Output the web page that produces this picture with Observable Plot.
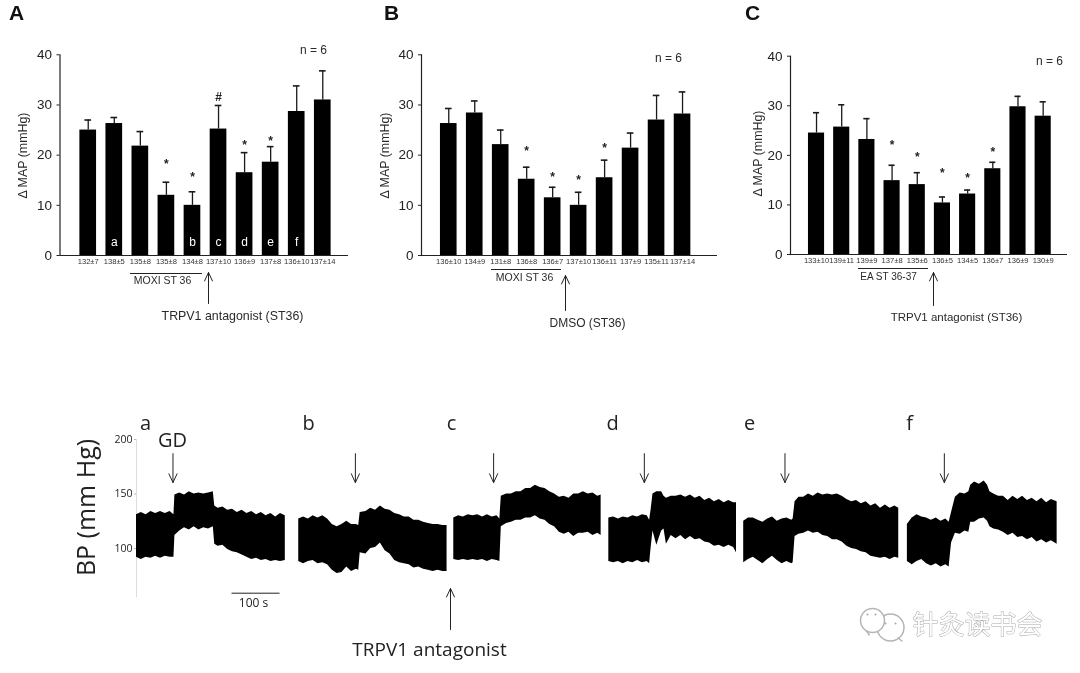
<!DOCTYPE html>
<html><head><meta charset="utf-8">
<script src="https://cdn.jsdelivr.net/npm/d3@7"></script>
<script src="https://cdn.jsdelivr.net/npm/@observablehq/plot@0.6"></script>
<style>html,body{margin:0;background:#fff;width:1080px;height:673px;overflow:hidden}#p{position:relative;width:1080px;height:673px;filter:blur(0.4px)}</style>
</head><body><div id="p"></div><script>
const FONT = "'Liberation Sans',Arial,sans-serif";
// Panel A
const labelsA = ["132±7","138±5","135±8","135±8","134±8","137±10","136±9","137±8","136±10","137±14"];
const meanA = [25,26.3,21.8,12,10,25.2,16.5,18.6,28.7,31];
const topA  = [27,27.5,24.7,14.6,12.7,29.9,20.5,21.7,33.8,36.8];
const markA = [null,null,null,18.7,16.1,32,22.4,23.2,null,null];
const symA  = ["","","","*","*","#","*","*","",""];
const barLettersA = ["","a","","","b","c","d","e","f",""];
// Panel B
const labelsB = ["136±10","134±9","131±8","136±8","136±7","137±10","136±11","137±9","135±11","137±14"];
const meanB = [26.3,28.4,22.1,15.2,11.5,10,15.5,21.4,27,28.2];
const topB  = [29.3,30.8,25,17.6,13.6,12.6,19,24.4,31.9,32.6];
const markB = [null,null,null,21.1,16.1,15.5,21.8,null,null,null];
const symB  = ["","","","*","*","*","*","","",""];
// Panel C
const labelsC = ["133±10","139±11","139±9","137±8","135±6","136±5","134±5","136±7","136±9","130±9"];
const meanC = [24.5,25.7,23.2,14.9,14.1,10.4,12.2,17.3,29.8,27.9];
const topC  = [28.6,30.2,27.4,18,16.5,11.6,13,18.6,31.9,30.8];
const markC = [null,null,null,22.5,20.1,16.8,15.9,21.1,null,null];
const symC  = ["","","","*","*","*","*","*","",""];
// BP traces: seconds from each segment's start, upper and lower envelope in mm Hg
const traceNames = ["a","b","c","d","e","f"];
const traceStart = [0,338,661,984,1265,1606];
const tA=[0,10,20,30,40,50,60,70,78,80,90,100,110,120,130,140,150,160,163,170,180,190,200,210,220,230,240,250,260,270,280,290,300,310];
const hiA=[131,133,131,134,132,134,132,134,131,149,151,149,152,150,151,150,151,152,139,137,138,135,136,133,135,132,134,131,133,130,132,129,132,130];
const loA=[92,90,92,91,93,91,93,92,92,112,116,119,117,120,117,119,118,120,104,102,103,99,97,96,94,92,90,91,89,90,88,89,88,89];
const tB=[0,10,20,30,40,50,60,70,80,90,100,110,120,125,128,140,150,160,170,180,190,200,210,220,230,240,250,260,270,280,290,300,309];
const hiB=[127,129,127,130,128,130,127,122,120,122,125,122,122,121,133,134,137,135,139,136,135,132,131,129,129,126,126,124,123,122,122,121,121];
const loB=[88,86,88,89,86,87,85,80,77,78,83,79,81,80,96,95,100,101,105,98,95,89,87,86,85,82,83,81,80,79,80,79,79];
const tC=[0,10,20,30,40,50,60,70,80,90,96,99,110,120,130,140,150,160,170,180,190,200,210,220,230,240,250,260,270,280,290,300,307];
const hiC=[128,130,129,131,130,131,129,131,129,130,127,148,150,150,152,152,155,155,158,156,155,152,150,147,148,146,150,150,152,150,151,148,149];
const loC=[90,89,90,89,90,89,90,88,90,89,88,120,123,124,126,126,128,128,130,127,126,122,120,115,113,115,111,114,114,115,112,114,112];
const tD=[0,10,20,30,40,50,60,70,80,85,88,92,100,110,115,120,130,140,150,160,170,180,190,200,210,220,230,240,250,260,266];
const hiD=[128,129,127,129,128,130,129,131,130,126,135,150,152,152,148,146,148,148,149,147,149,146,148,144,146,143,145,142,144,142,142];
const loD=[88,87,88,86,88,87,89,87,88,86,100,116,103,116,118,104,112,109,112,108,111,108,109,106,105,102,103,101,103,101,96];
const tE=[0,10,20,30,40,50,60,70,80,90,100,103,107,115,125,135,145,155,165,175,185,195,205,215,225,235,245,255,265,275,285,295,305,315,323];
const hiE=[125,128,128,126,124,127,129,125,127,128,126,127,143,147,147,150,148,151,149,150,149,150,148,145,143,144,141,143,139,141,137,140,137,139,137];
const loE=[87,90,92,89,86,90,93,89,86,88,86,87,111,113,114,116,114,115,112,111,108,108,106,102,100,99,97,96,93,92,91,92,90,92,91];
const tF=[0,10,20,30,40,50,60,70,80,87,92,100,110,120,128,132,140,150,160,167,172,180,190,200,210,220,230,240,250,260,270,280,290,300,312];
const hiF=[122,128,131,129,128,126,128,125,127,124,133,147,151,150,152,158,161,159,162,158,152,150,148,148,144,148,145,148,144,146,143,146,142,145,143];
const loF=[88,85,88,90,86,84,86,83,85,83,105,114,113,116,115,124,124,127,128,125,120,118,117,115,112,114,110,111,108,110,106,108,105,107,104];
const gdTimes = [76,456,744,1058,1351,1683];

const host = document.getElementById("p");
function place(svg,left,top){svg.style.position="absolute";svg.style.left=left+"px";svg.style.top=top+"px";svg.style.background="transparent";svg.style.overflow="visible";host.appendChild(svg);}

function panel(labels,mean,top,mark,sym,letters,g){
  const rows = labels.map((l,i)=>({i,mean:mean[i],top:top[i],mark:mark[i],sym:sym[i],letter:letters?letters[i]:""}));
  return Plot.plot({
    width:g.w,height:g.h,marginLeft:g.l,marginRight:g.r,marginTop:g.t,marginBottom:g.b,
    style:{fontFamily:FONT,color:"#222"},
    x:{domain:d3.range(10),range:g.xr,padding:0.36,round:false,axis:null},
    y:{domain:[0,40],axis:null},
    marks:[
      Plot.ruleX(rows,{x:"i",y1:"mean",y2:"top",stroke:"#1a1a1a",strokeWidth:1.3}),
      Plot.tickY(rows,{x:"i",y:"top",stroke:"#1a1a1a",strokeWidth:1.6,insetLeft:5,insetRight:5}),
      Plot.barY(rows,{x:"i",y:"mean",fill:"#000"}),
      Plot.text(rows.filter(d=>d.sym),{x:"i",y:"mark",text:"sym",fontSize:12,fontWeight:"bold",fill:"#222",dy:2}),
      Plot.text(rows.filter(d=>d.letter),{x:"i",y:()=>2.6,text:"letter",fontSize:12,fill:"#fff"}),
      Plot.frame({anchor:"left",stroke:"#222",strokeWidth:1.2}),
      Plot.ruleY([0],{stroke:"#222",strokeWidth:1.2}),
      Plot.axisY({ticks:[0,10,20,30,40],tickSize:3,tickPadding:5,label:null,fontSize:13.5,stroke:"#222",fill:"#222"}),
      Plot.axisX({tickFormat:i=>labels[i],tickSize:0,tickPadding:3,label:null,fontSize:7.6,fill:"#333"})
    ]
  });
}
place(panel(labelsA,meanA,topA,markA,symA,barLettersA,{w:360,h:340,l:59.5,r:12,t:54.3,b:85,xr:[70,340]}),0,0);
place(panel(labelsB,meanB,topB,markB,symB,null,{w:360,h:340,l:51,r:13,t:54.3,b:85,xr:[60.6,329.7]}),370,0);
place(panel(labelsC,meanC,topC,markC,symC,null,{w:350,h:340,l:60,r:13,t:55.7,b:86,xr:[68.9,329.8]}),730,0);

// BP traces
const traces = [[tA,hiA,loA],[tB,hiB,loB],[tC,hiC,loC],[tD,hiD,loD],[tE,hiE,loE],[tF,hiF,loF]];
const traceRows = traces.flatMap(([t,hi,lo],k)=>t.map((v,j)=>({name:traceNames[k],t:traceStart[k]+v,hi:hi[j],lo:lo[j]})));
place(Plot.plot({
  width:1080,height:273,marginLeft:136,marginRight:22.4,marginTop:39,marginBottom:125,
  style:{fontFamily:"'Open Sans',sans-serif",color:"#222"},
  x:{domain:[0,1920],axis:null},
  y:{domain:[100,200],axis:null},
  marks:[
    Plot.ruleX([0],{y1:55,y2:200,stroke:"#ddd",strokeWidth:1}),
    Plot.axisY({ticks:[100,150,200],tickSize:2,tickPadding:2,label:null,fontSize:10.5,stroke:"#bbb",fill:"#222"}),
    Plot.areaY(traceRows,{x:"t",y1:"lo",y2:"hi",z:"name",fill:"#000"}),
    Plot.arrow(gdTimes,{x1:d=>d,x2:d=>d,y1:()=>187,y2:()=>160.5,bend:0,stroke:"#222",strokeWidth:1,headLength:16,headAngle:50}),
    Plot.ruleY([59],{x1:199,x2:299,stroke:"#222",strokeWidth:1}),
  ]
}),0,400);

// Annotation layer (page pixels)
const headings = [{s:"A",x:16,y:13},{s:"B",x:391,y:13},{s:"C",x:752,y:13}];
const texts = [
 {s:"n = 6",x:313,y:50,size:12},{s:"n = 6",x:668,y:58,size:12},{s:"n = 6",x:1049,y:61,size:12},
 {s:"Δ MAP (mmHg)",x:23,y:155,size:12.4,rot:-90},{s:"Δ MAP (mmHg)",x:385,y:155,size:12.4,rot:-90},{s:"Δ MAP (mmHg)",x:758,y:153,size:12.4,rot:-90},
 {s:"MOXI ST 36",x:162,y:280,size:10.5},{s:"MOXI ST 36",x:524,y:277,size:10.5},{s:"EA ST 36-37",x:888,y:276,size:10},
 {s:"TRPV1 antagonist (ST36)",x:232,y:316,size:12.4},{s:"DMSO (ST36)",x:587,y:323,size:12},{s:"TRPV1 antagonist (ST36)",x:956,y:317,size:11.5},
];
const bigTexts = [
 {s:"a",x:145,y:423},{s:"b",x:308,y:423},{s:"c",x:451,y:423},{s:"d",x:612,y:423},{s:"e",x:749,y:423},{s:"f",x:909,y:423},
 {s:"GD",x:172,y:440},{s:"TRPV1 antagonist",x:429,y:649,size:19},
];
const lines = [{x1:130,x2:202,y:273},{x1:491,x2:561,y:269},{x1:858,x2:928,y:268}];
const arrows = [{x:208,y1:303,y2:272},{x:565,y1:310,y2:275},{x:933,y1:305,y2:272},{x:450,y1:629,y2:588}];
const bubbles = [{x:872,y:620,r:12},{x:890,y:627,r:13.5}];
const eyes = [{x:867,y:614},{x:875,y:614},{x:885,y:623},{x:895,y:623}];
const tails = [{x1:866,y1:630,x2:869,y2:635},{x1:897,y1:637,x2:902,y2:641}];
place(Plot.plot({
  width:1080,height:673,margin:0,
  style:{fontFamily:FONT,color:"#222"},
  x:{type:"identity",axis:null},y:{type:"identity",axis:null},
  r:{type:"identity"},
  marks:[
    Plot.text(headings,{x:"x",y:"y",text:"s",fontSize:21,fontWeight:"bold",fill:"#111"}),
    Plot.text(texts,{x:"x",y:"y",text:"s",fontSize:"size",rotate:d=>d.rot||0,fill:"#2a2a2a"}),
    Plot.ruleY(lines,{x1:"x1",x2:"x2",y:"y",stroke:"#222",strokeWidth:1}),
    Plot.arrow(arrows,{x1:"x",x2:"x",y1:"y1",y2:"y2",bend:0,stroke:"#222",strokeWidth:1,headLength:14,headAngle:50}),
    Plot.text(bigTexts,{x:"x",y:"y",text:"s",fontSize:d=>d.size||20,fontFamily:"'Open Sans',sans-serif",fill:"#222"}),
    Plot.text(["BP (mm Hg)"],{x:()=>86,y:()=>507,text:d=>d,rotate:-90,fontSize:25,fontFamily:"'Open Sans',sans-serif",fill:"#222"}),
    Plot.text(["100 s"],{x:()=>253,y:()=>603,text:d=>d,fontSize:12,fontFamily:"'Open Sans',sans-serif",fill:"#222"}),
    Plot.dot(bubbles,{x:"x",y:"y",r:"r",stroke:"#b5b5b5",strokeWidth:1.5,fill:"#fff"}),
    Plot.dot(eyes,{x:"x",y:"y",r:()=>1,fill:"#aaa"}),
    Plot.link(tails,{x1:"x1",y1:"y1",x2:"x2",y2:"y2",stroke:"#b5b5b5",strokeWidth:1.5}),
    Plot.text(["针灸读书会"],{x:()=>977,y:()=>625,text:d=>d,fontSize:26,fontFamily:"'Noto Sans CJK SC',sans-serif",fill:"#fff",stroke:"#aaa",strokeWidth:1,letterSpacing:0.5}),
  ]
}),0,0);
</script></body></html>
